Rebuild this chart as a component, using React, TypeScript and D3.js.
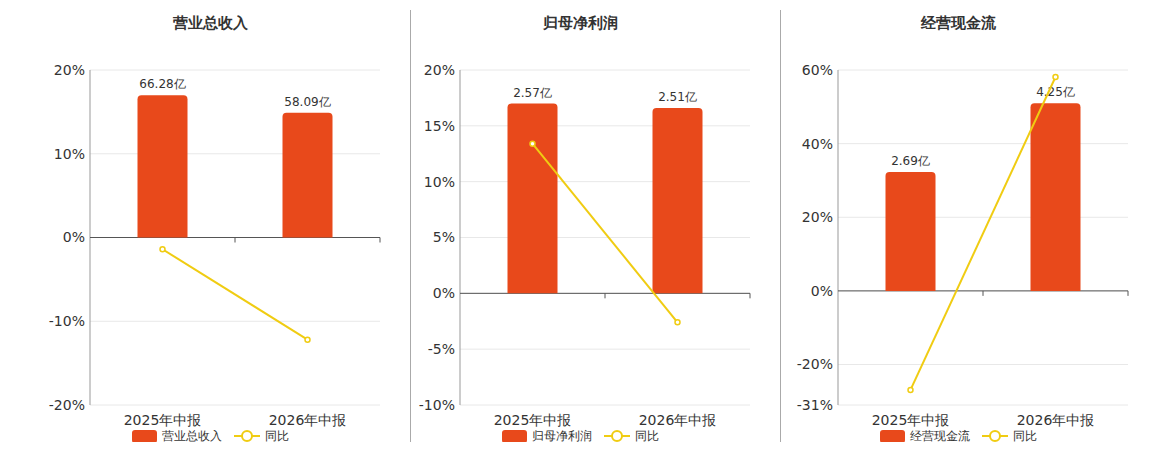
import * as d3 from 'd3'

const categories = ['2025年中报', '2026年中报']
const titles = ['营业总收入', '归母净利润', '经营现金流']
const barValues = [[66.28, 58.09], [2.57, 2.51], [2.69, 4.25]]
const yoyValues = [[-1.4, -12.2], [13.4, -2.6], [-26.9, 58.1]]
const yTicks = [[20, 10, 0, -10, -20], [20, 15, 10, 5, 0, -5, -10], [60, 40, 20, 0, -20, -31]]
const panelLeft = [90, 460, 838]

const BAR = '#E8491B'
const LINE = '#F0CC12'
const FONT = '"DejaVu Sans", sans-serif'

function Panel({ i }: { i: number }) {
  const left = panelLeft[i]
  const w = 290
  const top = 70
  const bottom = 405
  const ticks = yTicks[i]
  const y = d3.scaleLinear().domain([d3.min(ticks)!, d3.max(ticks)!]).range([bottom, top])
  const x = d3.scaleBand().domain(categories).range([left, left + w])
  const zero = y(0)
  const bMax = d3.max(barValues[i])! / 0.85
  const bh = d3.scaleLinear().domain([0, bMax]).range([0, zero - top])
  const bw = 50
  const cx = (c: string) => (x(c) ?? 0) + x.bandwidth() / 2
  const line = d3.line<number>().x((_, j) => cx(categories[j])).y((d) => y(d))
  const mid = left + w / 2
  return (
    <g fontFamily={FONT}>
      <text x={mid - 25} y={28} textAnchor="middle" fontSize={15} fontWeight="bold" fill="#333">{titles[i]}</text>
      {ticks.map((t) => (
        <g key={t}>
          <line x1={left} x2={left + w} y1={y(t)} y2={y(t)} stroke="#e8e8e8" />
          <text x={left - 5} y={y(t)} dy="0.35em" textAnchor="end" fontSize={14} fill="#333">{t}%</text>
        </g>
      ))}
      <line x1={left} x2={left} y1={top} y2={bottom} stroke="#999" />
      <line x1={left} x2={left + w} y1={zero} y2={zero} stroke="#555" />
      {[1, 2].map((k) => (
        <line key={k} x1={left + k * x.bandwidth()} x2={left + k * x.bandwidth()} y1={zero} y2={zero + 5} stroke="#555" />
      ))}
      {categories.map((c, j) => {
        const h = bh(barValues[i][j])
        const x0 = cx(c) - bw / 2
        const r = 4
        return (
          <g key={c}>
            <path d={`M${x0},${zero}V${zero - h + r}Q${x0},${zero - h} ${x0 + r},${zero - h}H${x0 + bw - r}Q${x0 + bw},${zero - h} ${x0 + bw},${zero - h + r}V${zero}Z`} fill={BAR} />
            <text x={cx(c)} y={zero - h - 7} textAnchor="middle" fontSize={12} fill="#333">{barValues[i][j]}亿</text>
            <text x={cx(c)} y={425} textAnchor="middle" fontSize={14} fill="#333">{c}</text>
          </g>
        )
      })}
      <path d={line(yoyValues[i]) ?? ''} fill="none" stroke={LINE} strokeWidth={2} />
      {yoyValues[i].map((v, j) => (
        <circle key={j} cx={cx(categories[j])} cy={y(v)} r={2.5} fill="#fff" stroke={LINE} strokeWidth={1.5} />
      ))}
      <g transform={`translate(${mid - 103},436)`}>
        <rect x={0} y={-6} width={25} height={13} rx={3} fill={BAR} />
        <text x={30} y={0} dy="0.35em" fontSize={12} fill="#333">{titles[i]}</text>
        <line x1={102} x2={128} y1={0} y2={0} stroke={LINE} strokeWidth={2} />
        <circle cx={115} cy={0} r={5} fill="#fff" stroke={LINE} strokeWidth={2} />
        <text x={133} y={0} dy="0.35em" fontSize={12} fill="#333">同比</text>
      </g>
    </g>
  )
}

export default function App() {
  return (
    <svg width={1160} height={450} style={{ display: 'block', margin: -8 }}>
      <rect width={1160} height={450} fill="#fff" />
      <line x1={410.5} x2={410.5} y1={10} y2={443} stroke="#aaa" />
      <line x1={780.5} x2={780.5} y1={10} y2={443} stroke="#aaa" />
      {[0, 1, 2].map((i) => <Panel key={i} i={i} />)}
    </svg>
  )
}
